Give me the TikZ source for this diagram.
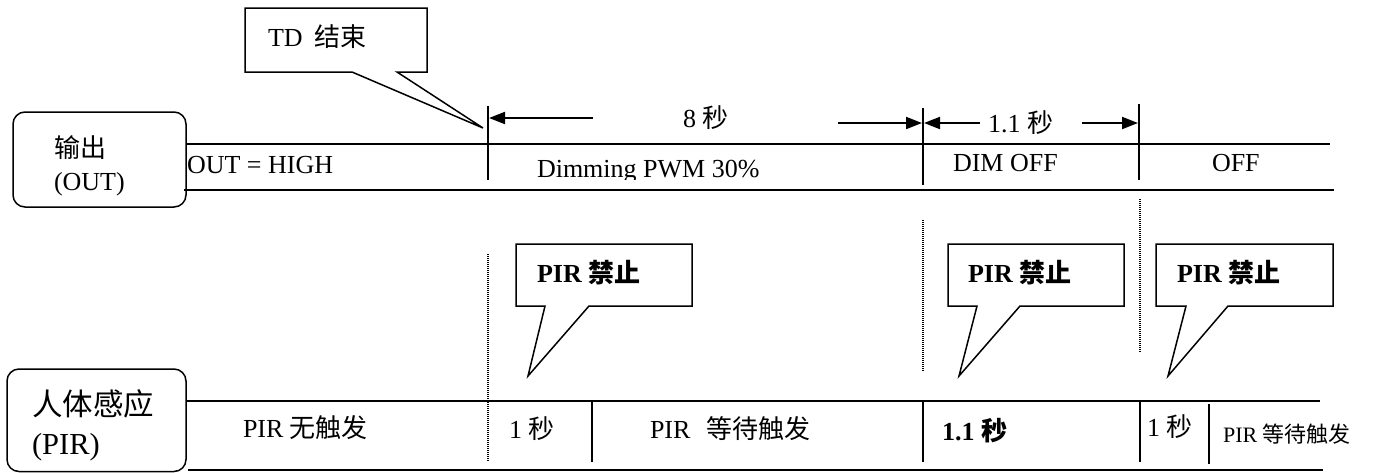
\documentclass[tikz,border=0pt]{standalone}
\usepackage{fontspec}
\setmainfont{Liberation Serif}
\newfontfamily\cjk{Noto Sans CJK SC}
\usetikzlibrary{arrows.meta}
\tikzset{
  lbl/.style={anchor=base west, inner sep=0pt, outer sep=0pt, font=\fontsize{26}{30}\selectfont},
  big/.style={lbl, font=\fontsize{30.5}{34}\selectfont},
  small/.style={lbl, font=\fontsize{22}{26}\selectfont},
  rule/.style={line width=1.5pt},
  dotline/.style={line width=1.2pt, dash pattern=on 1pt off 1pt},
  callout/.style={draw, line width=1.5pt, fill=white, line join=miter},
  tagbox/.style={draw, line width=1.5pt, rounded corners=12pt},
  arr/.style={line width=2pt, -{Triangle[length=16pt,width=12pt]}}
}
\begin{document}
\begin{tikzpicture}[x=1pt,y=-1pt]
\useasboundingbox (0,0) rectangle (1380,472);

% ---------- OUT row ----------
\draw[tagbox] (13,112) rectangle (186,207);
\node[lbl] (outcn) at (54,157) {{\cjk 输出}};
\node[lbl] (outen) at (54,190) {(OUT)};

\coordinate (oTL) at (186,144); \coordinate (oTR) at (1330,144);
\coordinate (oBL) at (184,190); \coordinate (oBR) at (1334,190);
\draw[rule] (oTL) -- (oTR);
\draw[rule] (oBL) -- (oBR);

\coordinate (t1a) at (488,106); \coordinate (t1b) at (488,180);
\coordinate (t2a) at (923,108); \coordinate (t2b) at (923,185);
\coordinate (t3a) at (1139,104); \coordinate (t3b) at (1139,180);
\draw[rule] (t1a) -- (t1b);
\draw[rule] (t2a) -- (t2b);
\draw[rule] (t3a) -- (t3b);

\node[lbl] (high) at (187,173) {OUT = HIGH};
\begin{scope}
  \clip (480,100) rectangle (900,179.5);
  \node[lbl] (pwm) at (537,177) {Dimming PWM 30\%};
\end{scope}
\node[lbl] (dimoff) at (953,171) {DIM OFF};
\node[lbl] (off) at (1212,171) {OFF};

% dimension arrows
\node[lbl] (eight) at (683,127) {8 {\cjk 秒}};
\coordinate (a1s) at (593,118); \coordinate (a1e) at (489,118);
\coordinate (a2s) at (838,123); \coordinate (a2e) at (922,123);
\draw[arr] (a1s) -- (a1e);
\draw[arr] (a2s) -- (a2e);
\node[lbl] (onep) at (988,132) {1.1 {\cjk 秒}};
\coordinate (a3s) at (980,123); \coordinate (a3e) at (924,123);
\coordinate (a4s) at (1082,123); \coordinate (a4e) at (1138,123);
\draw[arr] (a3s) -- (a3e);
\draw[arr] (a4s) -- (a4e);

% TD callout
\draw[callout] (245,8) -- (427,8) -- (427,72) -- (397,72) -- (483,128) -- (352,72) -- (245,72) -- cycle;
\node[lbl] (td) at (268,46) {TD\hspace{12pt}{\cjk 结束}};

% ---------- PIR row ----------
\draw[tagbox] (7,369) rectangle (186,471.5);
\node[big] (pircn) at (32,415) {{\cjk 人体感应}};
\node[big] (piren) at (32,454) {(PIR)};

\coordinate (pTL) at (186,401); \coordinate (pTR) at (1320,401);
\coordinate (pBL) at (188,470); \coordinate (pBR) at (1323,470);
\draw[rule] (pTL) -- (pTR);
\draw[rule] (pBL) -- (pBR);

% dotted guides
\coordinate (d1a) at (488,254); \coordinate (d1b) at (488,462);
\coordinate (d2a) at (923,220); \coordinate (d2b) at (923,372);
\coordinate (d3a) at (1140,199); \coordinate (d3b) at (1140,352);
\draw[dotline] (d1a) -- (d1b);
\draw[dotline] (d2a) -- (d2b);
\draw[dotline] (d3a) -- (d3b);

% solid separators in PIR row
\coordinate (s1a) at (592,401); \coordinate (s1b) at (592,462);
\coordinate (s2a) at (923,401); \coordinate (s2b) at (923,462);
\coordinate (s3a) at (1140,401); \coordinate (s3b) at (1140,462);
\coordinate (s4a) at (1209,404); \coordinate (s4b) at (1209,464);
\draw[rule] (s1a) -- (s1b);
\draw[rule] (s2a) -- (s2b);
\draw[rule] (s3a) -- (s3b);
\draw[rule] (s4a) -- (s4b);

\node[lbl] (none) at (243,437) {PIR {\cjk 无触发}};
\node[lbl] (sec1) at (509,438) {1 {\cjk 秒}};
\node[lbl] (wait1) at (650,438) {PIR\hspace{16pt}{\cjk 等待触发}};
\node[lbl] (sec11) at (942,440) {\bfseries 1.1 {\cjk\bfseries 秒}};
\node[lbl] (sec2) at (1147,436) {1 {\cjk 秒}};
\node[small] (wait2) at (1223,442) {PIR {\cjk 等待触发}};

% PIR callouts
\draw[callout] (516,244) -- (692,244) -- (692,306) -- (589,306) -- (528,376) -- (545,306) -- (516,306) -- cycle;
\node[lbl] (ban1) at (537,282) {\bfseries PIR {\cjk\bfseries 禁止}};
\draw[callout] (948,244) -- (1124,244) -- (1124,306) -- (1020,306) -- (959,376) -- (977,306) -- (948,306) -- cycle;
\node[lbl] (ban2) at (968,282) {\bfseries PIR {\cjk\bfseries 禁止}};
\draw[callout] (1156,244) -- (1333,244) -- (1333,306) -- (1228,306) -- (1168,376) -- (1186,306) -- (1156,306) -- cycle;
\node[lbl] (ban3) at (1177,282) {\bfseries PIR {\cjk\bfseries 禁止}};
\end{tikzpicture}
\end{document}
